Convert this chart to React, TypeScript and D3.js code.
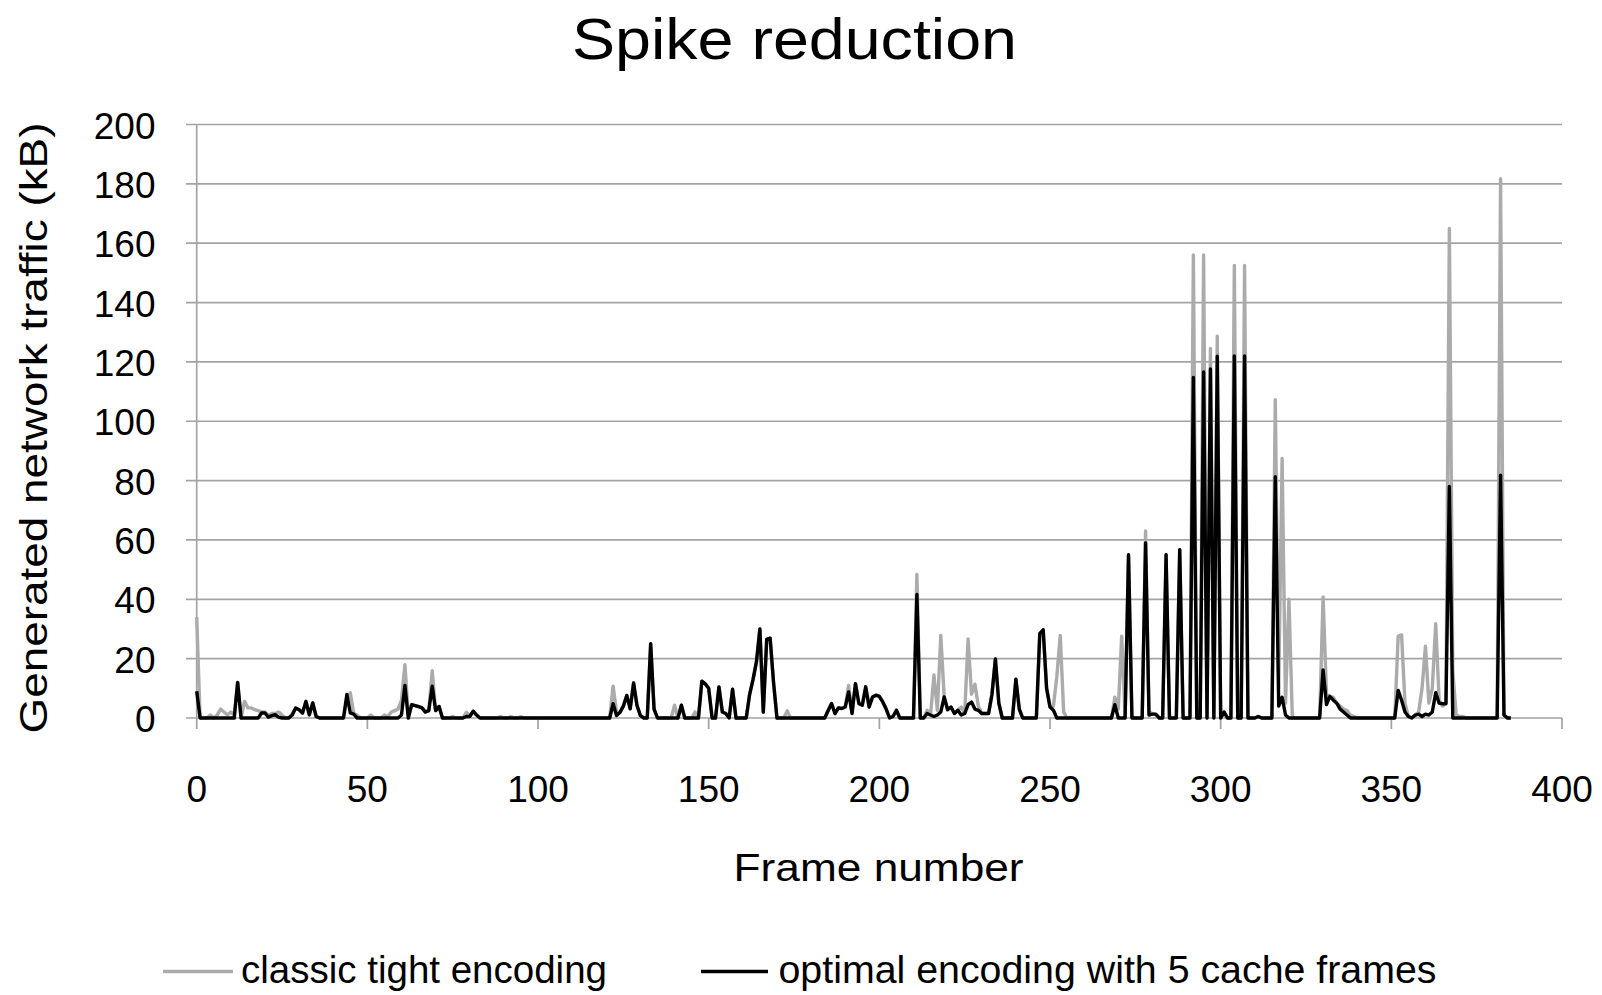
import React from "react";
import * as d3 from "d3";

// traffic per frame (kB), frame 0..385
const classicTight = [
  34, 0, 0, 0, 1, 0, 1, 3, 2, 1,
  2, 1, 12, 0, 5.6, 3.4, 3.4, 2.8, 2.5, 2,
  2, 1, 1.5, 1.5, 2, 1, 0, 0, 1.5, 3.4,
  2.8, 1.7, 5.6, 1.1, 5.1, 0.5, 0, 0, 0, 0,
  0, 0, 0, 0, 6, 8.5, 1.5, 1, 0, 0,
  0, 1, 0, 0, 0, 1, 0.5, 2, 2.5, 3,
  6, 18, 1, 4.5, 4.2, 3.8, 3.4, 2, 2.5, 15.9,
  2.5, 3.9, 0, 0, 0, 0.5, 0, 0, 0, 1.9,
  0.5, 2.3, 1, 0, 0, 0, 0, 0, 0, 0.5,
  0, 0, 0.5, 0, 0, 0.5, 0, 0, 0, 0,
  0, 0, 0, 0, 0, 0, 0, 0, 0, 0,
  0, 0, 0, 0, 0, 0, 0, 0, 0, 0,
  0, 0, 10.7, 2, 1.9, 4, 7.6, 3.1, 11.8, 4.2,
  0.8, 0, 0, 25, 3, 0, 0, 0, 0, 0,
  4.3, 0, 4.3, 0, 0, 0, 2, 0, 12.4, 11.5,
  10, 0, 0, 10.5, 2, 1.5, 0, 9.7, 0, 0,
  0, 0, 8, 13, 19, 30, 2, 26.5, 26.9, 12,
  0, 0, 0, 2.4, 0, 0, 0, 0, 0, 0,
  0, 0, 0, 0, 0, 2.5, 4.9, 1.5, 3.4, 3.2,
  3.7, 11, 1.5, 11.6, 4.9, 4.3, 10.5, 3.7, 7.1, 7.7,
  7.3, 5.4, 3, 0, 0.5, 2.6, 0, 0, 0, 0,
  0, 48.4, 0, 0, 2.6, 1, 14.5, 2.6, 27.8, 7,
  2.8, 3.7, 1.5, 2.6, 3.7, 1.5, 26.6, 8, 11.4, 4,
  1.5, 1.5, 1.5, 8, 19.9, 5, 0, 0, 0, 0,
  13.1, 3, 0, 0, 0, 0, 0, 28.4, 29.7, 10,
  3.7, 4, 14, 27.8, 2, 0, 0, 0, 0, 0,
  0, 0, 0, 0, 0, 0, 0, 0, 0, 7,
  3, 27.6, 0, 55, 0, 0, 0, 0, 63, 2,
  1.5, 1, 0, 0, 55, 0, 0, 0, 56.7, 0,
  0, 0, 156, 0, 0, 156, 0, 124.5, 0, 128.7,
  0, 2, 0, 0, 152.5, 0, 0, 152.5, 0, 0,
  0, 0.5, 0, 0, 0, 0, 107.3, 10, 87.5, 5,
  40, 0, 0, 0, 0, 0, 0, 0, 0, 0,
  40.8, 8, 7, 7, 5, 4, 3, 2.5, 1, 0.5,
  0, 0, 0, 0, 0, 0, 0, 0, 0, 0,
  0, 0, 27.6, 28, 5, 0.5, 0, 1, 2, 10,
  24.2, 5, 10, 31.8, 6, 4, 5, 165, 16, 1,
  0.5, 0.5, 0, 0, 0, 0, 0, 0, 0, 0,
  0, 0, 181.7, 1, 0, 0,
];

const optimalCache5 = [
  9, 0, 0, 0, 0, 0, 0, 0, 0, 0,
  0, 0, 12, 0, 0, 0, 0, 0, 0, 1.7,
  1.7, 0.3, 0.8, 1.1, 0.3, 0, 0, 0, 1, 3.4,
  2.8, 1.7, 5.6, 1.1, 5.1, 0.5, 0, 0, 0, 0,
  0, 0, 0, 0, 7.9, 1.7, 1.3, 0, 0, 0,
  0, 0, 0, 0, 0, 0, 0, 0, 0, 0,
  1, 11, 0, 4.5, 4.2, 3.8, 3.4, 2, 2.5, 10.7,
  2.5, 3.9, 0, 0, 0, 0, 0, 0, 0, 0.5,
  0.5, 2.3, 1, 0, 0, 0, 0, 0, 0, 0,
  0, 0, 0, 0, 0, 0, 0, 0, 0, 0,
  0, 0, 0, 0, 0, 0, 0, 0, 0, 0,
  0, 0, 0, 0, 0, 0, 0, 0, 0, 0,
  0, 0, 4.8, 0.8, 1.9, 4, 7.6, 3.1, 11.8, 4.2,
  0.8, 0, 0, 25, 3, 0, 0, 0, 0, 0,
  0, 0, 4.3, 0, 0, 0, 0, 0, 12.4, 11.5,
  10, 0, 0, 10.5, 2, 1.5, 0, 9.7, 0, 0,
  0, 0, 8, 13, 19, 30, 2, 26.5, 26.9, 12,
  0, 0, 0, 0, 0, 0, 0, 0, 0, 0,
  0, 0, 0, 0, 0, 2.5, 4.9, 1.5, 3.4, 3.2,
  3.7, 8.8, 1.5, 11.6, 4.9, 4.3, 10.5, 3.7, 7.1, 7.7,
  7.3, 5.4, 3, 0, 0.5, 2.6, 0, 0, 0, 0,
  0, 41.6, 0, 0, 1.5, 1, 0.5, 1, 2, 7.1,
  2.8, 3.7, 1.5, 2.6, 1, 1.5, 4.5, 5.4, 3, 2.6,
  1.5, 1.5, 1.5, 8, 19.9, 5, 0, 0, 0, 0,
  13.1, 3, 0, 0, 0, 0, 0, 28.4, 29.7, 10,
  3.7, 2.6, 0, 0, 0, 0, 0, 0, 0, 0,
  0, 0, 0, 0, 0, 0, 0, 0, 0, 4.5,
  0, 0, 0, 55, 0, 0, 0, 0, 59, 1,
  1.3, 1.3, 0, 0, 55, 0, 0, 0, 56.7, 0,
  0, 0, 114.8, 0, 0, 116.6, 0, 117.6, 0, 121.9,
  0, 2, 0, 0, 122, 0, 0, 122, 0, 0,
  0, 0.5, 0, 0, 0, 0, 81.3, 4, 7, 1,
  0, 0, 0, 0, 0, 0, 0, 0, 0, 0,
  16.2, 4.5, 7.3, 6, 5, 3, 2, 1, 0, 0,
  0, 0, 0, 0, 0, 0, 0, 0, 0, 0,
  0, 0, 9.3, 6, 2, 0.5, 0, 1, 1.3, 0.5,
  1.3, 1, 2, 8.5, 5, 4.8, 4.8, 78, 0, 0,
  0, 0, 0, 0, 0, 0, 0, 0, 0, 0,
  0, 0, 81.8, 1, 0, 0,
];

const xTicks = [0, 50, 100, 150, 200, 250, 300, 350, 400];
const yTicks = [0, 20, 40, 60, 80, 100, 120, 140, 160, 180, 200];

const seriesNames = ["classic tight encoding", "optimal encoding with 5 cache frames"];
const seriesColors = ["#ababab", "#000000"];

const FONT = "'Liberation Sans', Arial, sans-serif";

export default function App() {
  const x = d3.scaleLinear().domain([0, 400]).range([196.7, 1562]);
  const y = d3.scaleLinear().domain([0, 200]).range([718, 124.5]);

  const line = d3
    .line<number>()
    .x((_, i) => x(i))
    .y((d) => y(d));

  const gridColor = "#a3a3a3";

  return (
    <svg
      width={1602}
      height={995}
      style={{ position: "absolute", left: 0, top: 0, background: "#fff" }}
      fontFamily={FONT}
    >
      <rect width={1602} height={995} fill="#fff" />
      <text x={794.5} y={59} fontSize={58} textAnchor="middle" textLength={445} lengthAdjust="spacingAndGlyphs">
        Spike reduction
      </text>

      {/* gridlines + y ticks */}
      {yTicks.map((t) => (
        <g key={t}>
          <line x1={186} x2={1562} y1={y(t)} y2={y(t)} stroke={gridColor} strokeWidth={1.7} />
          <text x={155.5} y={y(t) + 14} fontSize={37} textAnchor="end">
            {t}
          </text>
        </g>
      ))}
      <line x1={x(0)} x2={x(0)} y1={y(200)} y2={y(0)} stroke={gridColor} strokeWidth={1.7} />
      {xTicks.map((t) => (
        <g key={t}>
          <line x1={x(t)} x2={x(t)} y1={y(0)} y2={y(0) + 11} stroke={gridColor} strokeWidth={1.7} />
          <text x={x(t)} y={802} fontSize={37} textAnchor="middle">
            {t}
          </text>
        </g>
      ))}

      <path d={line(classicTight) ?? ""} fill="none" stroke={seriesColors[0]} strokeWidth={3.4} strokeLinejoin="round" />
      <path d={line(optimalCache5) ?? ""} fill="none" stroke={seriesColors[1]} strokeWidth={3.4} strokeLinejoin="round" />

      <text x={878.6} y={881} fontSize={38} textAnchor="middle" textLength={290} lengthAdjust="spacingAndGlyphs">
        Frame number
      </text>
      <text
        transform="translate(47,428) rotate(-90)"
        fontSize={39}
        textAnchor="middle"
        textLength={611}
        lengthAdjust="spacingAndGlyphs"
      >
        Generated network traffic (kB)
      </text>

      {/* legend */}
      <line x1={163} x2={233} y1={971.5} y2={971.5} stroke={seriesColors[0]} strokeWidth={3.4} />
      <text x={241} y={983} fontSize={38} textLength={366} lengthAdjust="spacingAndGlyphs">
        {seriesNames[0]}
      </text>
      <line x1={701} x2={768} y1={971.5} y2={971.5} stroke={seriesColors[1]} strokeWidth={3.4} />
      <text x={778.5} y={983} fontSize={38} textLength={658} lengthAdjust="spacingAndGlyphs">
        {seriesNames[1]}
      </text>
    </svg>
  );
}
